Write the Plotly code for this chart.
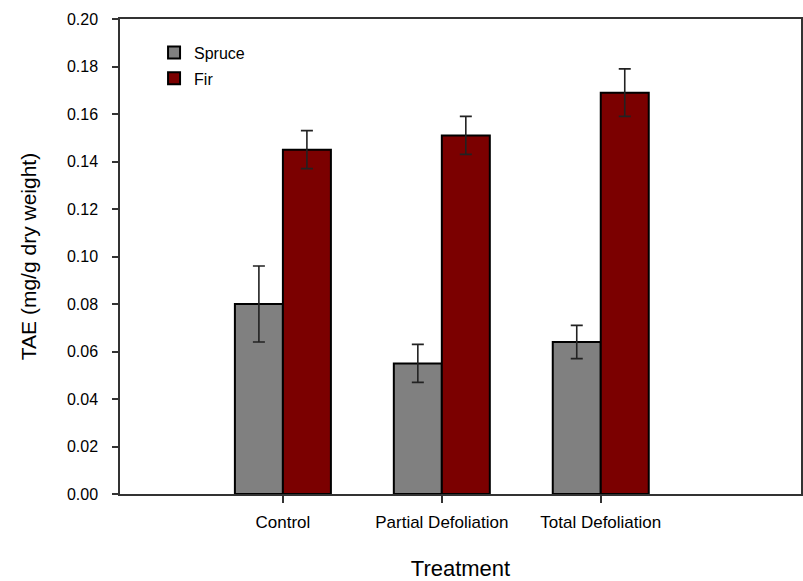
import plotly.graph_objects as go

categories = ["Control", "Partial Defoliation", "Total Defoliation"]
spruce = [0.080, 0.055, 0.064]
spruce_err = [0.016, 0.008, 0.007]
fir = [0.145, 0.151, 0.169]
fir_err = [0.008, 0.008, 0.010]
y_ticks = [0.00, 0.02, 0.04, 0.06, 0.08, 0.10, 0.12, 0.14, 0.16, 0.18, 0.20]

font_family = "Liberation Sans, Arial, sans-serif"

fig = go.Figure()
fig.add_trace(go.Bar(
    name="Spruce", x=categories, y=spruce, legendgroup="s",
    marker=dict(color="#808080", line=dict(color="black", width=2)),
    error_y=dict(type="data", array=spruce_err, color="#222222", thickness=1.6, width=6),
))
fig.add_trace(go.Bar(
    name="Fir", x=categories, y=fir, legendgroup="f",
    marker=dict(color="#7b0000", line=dict(color="black", width=2)),
    error_y=dict(type="data", array=fir_err, color="#222222", thickness=1.6, width=6),
))

fig.update_layout(
    width=803, height=581,
    margin=dict(l=120, r=2, t=19, b=87),
    paper_bgcolor="white", plot_bgcolor="white",
    barmode="group", bargap=0.396, bargroupgap=0,
    font=dict(family=font_family, color="black"),
    legend=dict(x=0.05, y=0.965, xanchor="left", yanchor="top",
                font=dict(size=16), bgcolor="rgba(0,0,0,0)",
                traceorder="grouped", tracegroupgap=2),
)
fig.update_xaxes(
    range=[-1.025, 3.26], automargin=False,
    showline=True, linecolor="#333333", linewidth=1.5, mirror=True,
    ticks="outside", ticklen=7, tickcolor="#333333", tickwidth=1.5,
    tickfont=dict(size=17), ticklabelstandoff=5,
    title=dict(text="Treatment", font=dict(size=22), standoff=35),
    showgrid=False, zeroline=False,
)
fig.update_yaxes(
    range=[0, 0.20], tickvals=y_ticks, tickformat=".2f", automargin=False,
    showline=True, linecolor="#333333", linewidth=1.5, mirror=True,
    ticks="outside", ticklen=6, tickcolor="#333333", tickwidth=1.5,
    tickfont=dict(size=16), ticklabelstandoff=11,
    title=dict(text="TAE (mg/g dry weight)", font=dict(size=21), standoff=25),
    showgrid=False, zeroline=False,
)

fig.write_html("out.html", config={"displayModeBar": False},
               post_script="document.body.style.margin='0';document.body.style.overflow='hidden';")
